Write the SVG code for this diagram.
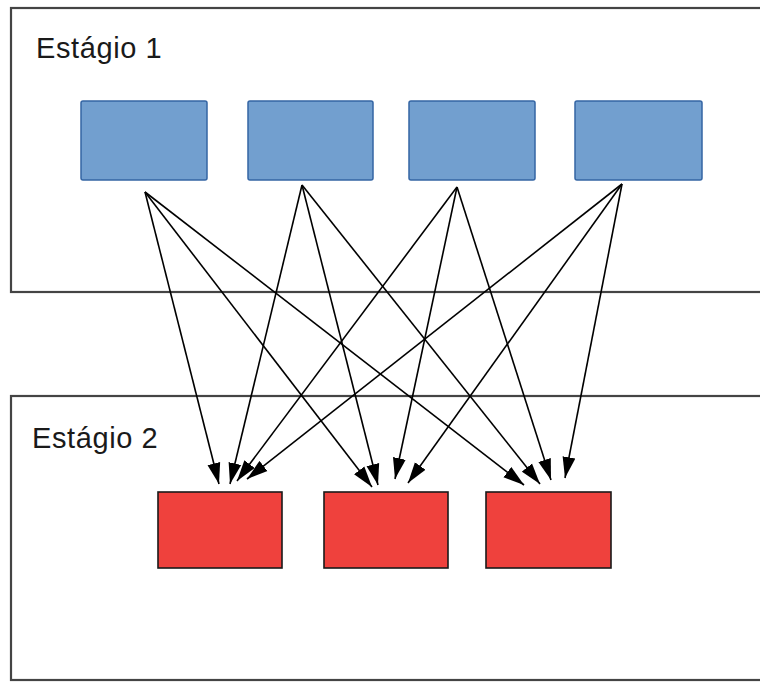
<svg xmlns="http://www.w3.org/2000/svg" width="760" height="682" viewBox="0 0 760 682">
  <style>
    .frame { fill: #ffffff; stroke: #444444; stroke-width: 2.2; }
    .label { font-family: "Liberation Sans", Arial, sans-serif; font-size: 29px; letter-spacing: 0.6px; fill: #1a1a1a; }
    .src { fill: #729fcf; stroke: #3465a4; stroke-width: 1.5; }
    .dst { fill: #ef413d; stroke: #1a1a1a; stroke-width: 1.6; }
    .edge { stroke: #000000; stroke-width: 1.6; fill: none; marker-end: url(#arrow); }
  </style>
  <defs>
    <marker id="arrow" markerUnits="userSpaceOnUse" markerWidth="22" markerHeight="14" refX="21" refY="7" orient="auto">
      <path d="M0,0.5 L21,7 L0,13.5 Z" fill="#000000"/>
    </marker>
  </defs>

  <rect width="760" height="682" fill="#ffffff"/>

  <!-- stage containers -->
  <g id="stage1">
    <rect class="frame" x="11" y="8" width="760" height="284"/>
    <text class="label" x="36" y="58">Estágio 1</text>
  </g>
  <g id="stage2">
    <rect class="frame" x="11" y="396" width="760" height="284"/>
    <text class="label" x="32" y="448">Estágio 2</text>
  </g>

  <!-- stage 1 nodes -->
  <g id="s1-a"><rect class="src" x="81" y="101" width="126" height="79" rx="2"/></g>
  <g id="s1-b"><rect class="src" x="248" y="101" width="125" height="79" rx="2"/></g>
  <g id="s1-c"><rect class="src" x="409" y="101" width="126" height="79" rx="2"/></g>
  <g id="s1-d"><rect class="src" x="575" y="101" width="127" height="79" rx="2"/></g>

  <!-- stage 2 nodes -->
  <g id="s2-a"><rect class="dst" x="158" y="492" width="124" height="76"/></g>
  <g id="s2-b"><rect class="dst" x="324" y="492" width="124" height="76"/></g>
  <g id="s2-c"><rect class="dst" x="486" y="492" width="125" height="76"/></g>

  <!-- connectors: every stage 1 node feeds every stage 2 node -->
  <g id="edges">
    <line class="edge" x1="145" y1="192" x2="219" y2="484"/>
    <line class="edge" x1="145" y1="192" x2="372" y2="487"/>
    <line class="edge" x1="145" y1="192" x2="524" y2="485"/>

    <line class="edge" x1="302" y1="185" x2="230" y2="484"/>
    <line class="edge" x1="302" y1="185" x2="378" y2="485"/>
    <line class="edge" x1="302" y1="185" x2="540" y2="484"/>

    <line class="edge" x1="457" y1="187" x2="237" y2="481"/>
    <line class="edge" x1="457" y1="187" x2="395" y2="479"/>
    <line class="edge" x1="457" y1="187" x2="551" y2="480"/>

    <line class="edge" x1="622" y1="184" x2="247" y2="479"/>
    <line class="edge" x1="622" y1="184" x2="408" y2="483"/>
    <line class="edge" x1="622" y1="184" x2="565" y2="478"/>
  </g>
</svg>
